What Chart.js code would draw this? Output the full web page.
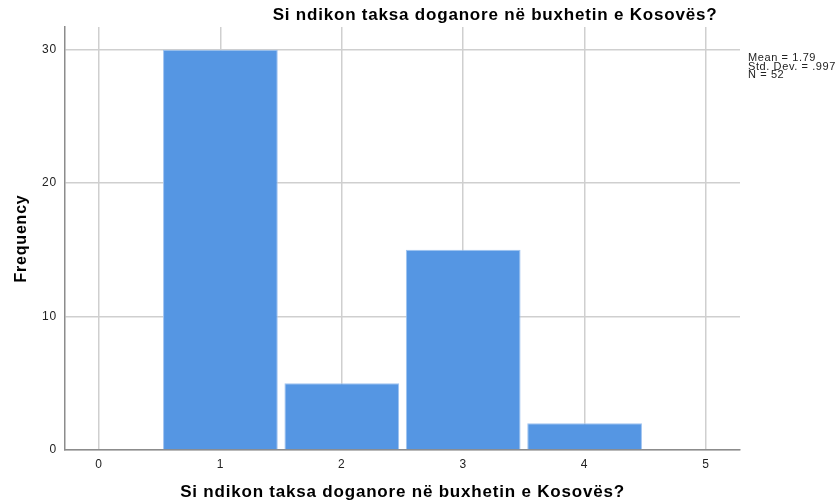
<!DOCTYPE html>
<html>
<head>
<meta charset="utf-8">
<script src="https://cdn.jsdelivr.net/npm/chart.js@4"></script>
<style>
  html, body { margin: 0; padding: 0; background: #fff; }
  #wrap { width: 840px; height: 503px; position: relative; }
</style>
</head>
<body>
<div id="wrap"><canvas id="hist"></canvas></div>
<script>
const title = "Si ndikon taksa doganore në buxhetin e Kosovës?";
const values = [1, 2, 3, 4];
const frequencies = [30, 5, 15, 2];
const xTicks = [0, 1, 2, 3, 4, 5];
const yTicks = [0, 10, 20, 30];
const stats = ["Mean = 1.79", "Std. Dev. = .997", "N = 52"];

const font = "'Liberation Sans', Arial, sans-serif";

// SPSS text renders a bit wider than Liberation, so space the letters out
const spacingPlugin = {
    id: "spacing",
    beforeDraw: (chart) => {
        chart.ctx.letterSpacing = "0.8px";
    },
};

// title and the stats box sit outside the plot area, so draw them by hand
const textPlugin = {
    id: "spssText",
    afterDraw: (chart) => {
        const ctx = chart.ctx;
        ctx.save();
        ctx.fillStyle = "#000";
        ctx.font = "bold 17px " + font;
        ctx.textAlign = "center";
        ctx.textBaseline = "middle";
        ctx.fillText(title, 495, 15);

        ctx.font = "11px " + font;
        ctx.letterSpacing = "0.6px";
        ctx.textAlign = "left";
        ctx.textBaseline = "alphabetic";
        ctx.fillStyle = "#222";
        stats.forEach((s, i) => {
            ctx.fillText(s, 748, 61 + i * 8.7);
        });
        ctx.restore();
        ctx.letterSpacing = "0px";
    },
};

const chart = new Chart(document.getElementById("hist"), {
    type: "bar",
    data: {
        datasets: [
            {
                label: title,
                data: values.map((v, i) => ({ x: v, y: frequencies[i] })),
                backgroundColor: "#5596e3",
                borderColor: "#9fc3f0",
                borderWidth: 1,
                barPercentage: 0.945,
                categoryPercentage: 1,
            },
        ],
    },
    options: {
        responsive: true,
        maintainAspectRatio: false,
        animation: false,
        layout: {
            padding: { top: 27, right: 100, left: 0, bottom: 0 },
        },
        plugins: {
            legend: { display: false },
            tooltip: { enabled: false },
        },
        scales: {
            x: {
                type: "linear",
                offset: false,
                min: -0.28,
                max: 5.28,
                afterBuildTicks: (scale) => {
                    scale.ticks = xTicks.map((v) => ({ value: v }));
                },
                afterFit: (scale) => {
                    scale.height = 53;
                },
                ticks: {
                    color: "#222",
                    font: { family: font, size: 12 },
                    padding: 7,
                },
                grid: {
                    offset: false,
                    color: "#cfcfcf",
                    lineWidth: 1.5,
                    drawTicks: false,
                },
                border: { color: "#8c8c8c", width: 1.5 },
                title: {
                    display: true,
                    text: title,
                    color: "#000",
                    font: { family: font, size: 17, weight: "bold" },
                    padding: { top: 10, bottom: 0 },
                },
            },
            y: {
                min: 0,
                max: 31.7,
                afterBuildTicks: (scale) => {
                    scale.ticks = yTicks.map((v) => ({ value: v }));
                },
                afterFit: (scale) => {
                    scale.width = 65;
                },
                ticks: {
                    color: "#222",
                    font: { family: font, size: 12 },
                    padding: 8,
                },
                grid: {
                    color: "#cfcfcf",
                    lineWidth: 1.5,
                    drawTicks: false,
                },
                border: { color: "#8c8c8c", width: 1.5 },
                title: {
                    display: true,
                    text: "Frequency",
                    color: "#000",
                    font: { family: font, size: 16, weight: "bold" },
                    padding: { top: 12, bottom: 4 },
                },
            },
        },
    },
    plugins: [spacingPlugin, textPlugin],
});
</script>
</body>
</html>
